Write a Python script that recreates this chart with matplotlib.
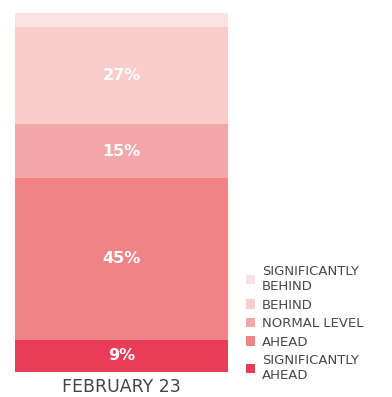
import matplotlib
matplotlib.use("Agg")
import matplotlib.pyplot as plt

category = "FEBRUARY 23"
levels = ["SIGNIFICANTLY\nAHEAD", "AHEAD", "NORMAL LEVEL", "BEHIND", "SIGNIFICANTLY\nBEHIND"]
values = [9, 45, 15, 27, 4]
labels = ["9%", "45%", "15%", "27%", ""]
colors = ["#e83c58", "#ef8386", "#f4a7a8", "#f8cdcc", "#fbe1e1"]

fig = plt.figure(figsize=(3.92, 3.97), dpi=100)
ax = fig.add_axes([15/392, 25/397, 213/392, 359/397])

bottom = 0
handles = []
for v, lab, c, name in zip(values, labels, colors, levels):
    b = ax.bar([0], [v], bottom=bottom, width=1.0, color=c, label=name)
    handles.append(b)
    if lab:
        ax.text(0, bottom + v / 2, lab, ha="center", va="center",
                color="white", fontsize=11.5, fontweight="bold")
    bottom += v

ax.set_xlim(-0.5, 0.5)
ax.set_ylim(0, sum(values))
ax.axis("off")

fig.text(121/392, 1 - 387/397, category, ha="center", va="center",
         fontsize=12.5, color="#444444")

leg = fig.legend(handles[::-1], levels[::-1], loc="upper left",
                 bbox_to_anchor=(246/392, 1 - 265/397), frameon=False,
                 fontsize=9.5, handlelength=0.7, handleheight=0.7,
                 handletextpad=0.5, labelspacing=0.42, borderpad=0,
                 borderaxespad=0)
for t in leg.get_texts():
    t.set_color("#484848")

fig.savefig("out.png", dpi=100)
